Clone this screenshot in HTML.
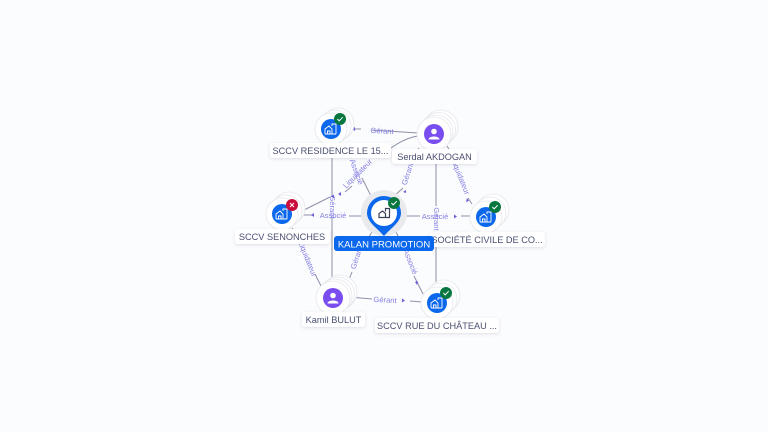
<!DOCTYPE html>
<html><head><meta charset="utf-8"><style>
html,body{margin:0;padding:0;background:#fbfcfe;width:768px;height:432px;overflow:hidden}
svg{display:block;font-family:"Liberation Sans",sans-serif}
.e{stroke:#8d90a8;stroke-width:1;fill:none}
.l{font-size:7.6px;fill:#8580e4;text-anchor:middle;dominant-baseline:middle}
.t{font-size:9.2px;fill:#4a4f72;text-anchor:middle;dominant-baseline:middle}
.c{fill:#fff;stroke:#e6e7ec;stroke-width:.8}
.a{fill:#6a5fd8}
</style></head><body>
<svg width="768" height="432" viewBox="0 0 768 432" xmlns="http://www.w3.org/2000/svg">
<defs>
<filter id="s" x="-20%" y="-40%" width="140%" height="200%"><feDropShadow dx="0" dy="1" stdDeviation="1.5" flood-color="#50557a" flood-opacity=".18"/></filter>
<g id="b"><circle r="10" fill="#0b67ec"/><path d="M-6 5V0L-2 -3L1 0V5M-6 5H5M1 -3V-5H5V5M-3.500 5V2H-1V5" fill="none" stroke="#fff" stroke-width=".9"/></g>
<g id="p"><circle r="10" fill="#7a4df0"/><circle cy="-2.500" r="2.800" fill="#fff"/><path d="M-5.500 5.500C-5.500 1.500 5.500 1.500 5.500 5.500Z" fill="#fff"/></g>
<g id="ok"><circle r="6" fill="#08773f"/><path d="M-2.600 0L-.8 1.900L2.700 -1.800" fill="none" stroke="#fff" stroke-width="1"/></g>
<g id="ko"><circle r="6" fill="#c80f3c"/><path d="M-2 -2L2 2M2 -2L-2 2" fill="none" stroke="#fff" stroke-width="1"/></g>
</defs>

<!-- edges -->
<path class="e" d="M347 129H361M372 130L418 133"/>
<path class="e" d="M391 148Q405 138 418 136"/>
<path class="e" d="M332 145V197M332 217V282"/>
<path class="e" d="M436 150V206M436 232V285"/>
<path class="e" d="M349 297L372 299M410 301L422 302"/>
<path class="e" d="M298 215H313M349 216H368"/>
<path class="e" d="M402 216H420M461 216H470"/>
<path class="e" d="M372 198L362 178"/>
<path class="e" d="M394 196L403 188M412 160L419 148"/>
<path class="e" d="M372 232L362 248M352 272L348 282"/>
<path class="e" d="M396 232L403 246M414 276L423 294"/>
<path class="e" d="M447 146L452 154M468 198L472 204"/>
<path class="e" d="M292 228L301 243M315 274L321 286"/>
<path class="e" d="M302 211L330 197M345 192L352 186"/>

<!-- edge labels -->
<text class="l" x="382" y="131.500" transform="rotate(3 382 131.500)">Gérant</text>
<text class="l" x="333" y="216">Associé</text>
<text class="l" x="435" y="217">Associé</text>
<text class="l" x="385" y="300.500" transform="rotate(3 385 300.500)">Gérant</text>
<text class="l" x="332" y="207" transform="rotate(90 332 207)">Gérant</text>
<text class="l" x="436" y="219" transform="rotate(90 436 219)">Gérant</text>
<text class="l" x="356" y="172" transform="rotate(70 356 172)">Associé</text>
<text class="l" x="358" y="174" transform="rotate(-45 358 174)">Liquidateur</text>
<text class="l" x="408" y="174" transform="rotate(-72 408 174)">Gérant</text>
<text class="l" x="357" y="258" transform="rotate(-72 357 258)">Gérant</text>
<text class="l" x="410" y="262" transform="rotate(68 410 262)">Associé</text>
<text class="l" x="460" y="177" transform="rotate(68 460 177)">Liquidateur</text>
<text class="l" x="307" y="259" transform="rotate(68 307 259)">Liquidateur</text>

<!-- arrows -->
<path class="a" d="M352 129l3 -2v4zM311 215l3 -2v4zM338 194l3 -2v4zM331 196.500l3 -2v4z"/>
<path class="a" d="M457 216.500l-3 -2v4zM405 300.500l-3 -2v4z"/>
<path class="a" d="M403 192l3 -2v3zM467 198l2 3 -3 1zM417 285l-2 -3 3 -1z"/>

<!-- center node -->
<circle cx="384" cy="213" r="23" fill="#e9eaed"/>
<path d="M367 213a17 17 0 1 1 34 0c0 9 -10 15 -17 23c-7 -8 -17 -14 -17 -23z" fill="#0b67ec"/>
<circle cx="384" cy="213" r="13" fill="#fff"/>
<path d="M379 217.500V213.500L382.500 211L385.500 213.500V217.500ZM385.500 211.500V208.500H389.500V217.500H385.500" fill="#fff" stroke="#3a3f5c" stroke-width="1.200"/>
<use href="#ok" x="394" y="203"/>

<!-- Residence -->
<circle class="c" cx="338" cy="124" r="16"/><circle class="c" cx="335" cy="126" r="16"/><circle class="c" cx="331" cy="129" r="16"/>
<use href="#b" x="331" y="129"/><use href="#ok" x="340" y="119"/>
<!-- Serdal -->
<circle class="c" cx="441" cy="127" r="17"/><circle class="c" cx="438.500" cy="129.500" r="17"/><circle class="c" cx="436" cy="132" r="17"/><circle class="c" cx="434" cy="134" r="17"/>
<use href="#p" x="434" y="134"/>
<!-- Senonches -->
<circle class="c" cx="289" cy="208" r="16"/><circle class="c" cx="286" cy="211" r="16"/><circle class="c" cx="282" cy="214" r="16"/>
<use href="#b" x="282" y="214"/><use href="#ko" x="292" y="205"/>
<!-- Societe -->
<circle class="c" cx="493" cy="210" r="16"/><circle class="c" cx="490" cy="213" r="16"/><circle class="c" cx="486" cy="217" r="16"/>
<use href="#b" x="486" y="217"/><use href="#ok" x="495" y="207"/>
<!-- Kamil -->
<circle class="c" cx="340" cy="292" r="17"/><circle class="c" cx="337.500" cy="294" r="17"/><circle class="c" cx="335" cy="296" r="17"/><circle class="c" cx="333" cy="298" r="17"/>
<use href="#p" x="333" y="298"/>
<!-- Rue -->
<circle class="c" cx="444" cy="296" r="16"/><circle class="c" cx="441" cy="299" r="16"/><circle class="c" cx="437" cy="303" r="16"/>
<use href="#b" x="437" y="303"/><use href="#ok" x="446" y="293"/>

<!-- labels -->
<g filter="url(#s)" fill="#fff">
<rect x="270" y="143" width="121" height="15" rx="3"/>
<rect x="392" y="149" width="85" height="15" rx="3"/>
<rect x="235" y="229" width="95" height="15" rx="3"/>
<rect x="430" y="232" width="115" height="15" rx="3"/>
<rect x="302" y="312" width="63" height="15" rx="3"/>
<rect x="375" y="318" width="124" height="15" rx="3"/>
</g>
<text class="t" x="330.500" y="151.500">SCCV RESIDENCE LE 15...</text>
<text class="t" x="434.500" y="157.500">Serdal AKDOGAN</text>
<text class="t" x="282" y="237.500">SCCV SENONCHES</text>
<text class="t" x="487" y="240.500">SOCIÉTÉ CIVILE DE CO...</text>
<text class="t" x="333.500" y="320.500">Kamil BULUT</text>
<text class="t" x="437" y="326.500">SCCV RUE DU CHÂTEAU ...</text>
<rect x="334" y="236" width="100" height="15" rx="3" fill="#0b67ec"/>
<text class="t" x="384" y="245" style="fill:#fff;font-size:9.5px">KALAN PROMOTION</text>
</svg>
</body></html>
